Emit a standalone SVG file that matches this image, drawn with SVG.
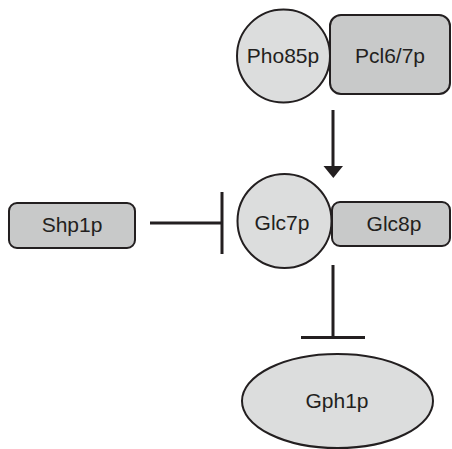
<svg xmlns="http://www.w3.org/2000/svg" width="452" height="449" viewBox="0 0 452 449">
<style>
.c{fill:#dcdddd;stroke:#231f20;stroke-width:2}
.r{fill:#c8c9c9;stroke:#231f20;stroke-width:2}
.t{font-family:"Liberation Sans",Arial,sans-serif;font-size:21px;fill:#231f20;text-anchor:middle}
.l{stroke:#231f20;stroke-width:3;fill:none}
</style>
<defs>
<marker id="arr" markerWidth="7" markerHeight="4" refX="6" refY="2" orient="auto" markerUnits="strokeWidth">
<path d="M0,0 L6.3,2 L0,4 Z" fill="#231f20"/>
</marker>
</defs>
<g id="pcl">
<rect class="r" x="330" y="15" width="120" height="79" rx="11"/>
<text class="t" x="390" y="63">Pcl6/7p</text>
</g>
<g id="pho85">
<circle class="c" cx="283.5" cy="56" r="46.5"/>
<text class="t" x="283" y="63">Pho85p</text>
</g>
<g id="glc8">
<rect class="r" x="332" y="202" width="118" height="44" rx="8"/>
<text class="t" x="394" y="231">Glc8p</text>
</g>
<g id="glc7">
<circle class="c" cx="284.5" cy="221" r="47"/>
<text class="t" x="282" y="230">Glc7p</text>
</g>
<g id="shp1">
<rect class="r" x="9" y="203" width="126" height="45" rx="8"/>
<text class="t" x="72" y="232">Shp1p</text>
</g>
<g id="gph1">
<ellipse class="c" cx="337.5" cy="401" rx="95.5" ry="47"/>
<text class="t" x="337" y="408">Gph1p</text>
</g>
<g id="connectors">
<line class="l" x1="333" y1="110" x2="333" y2="167"/>
<path d="M323.5,166 L343,166 L333.3,178 Z" fill="#231f20"/>
<line class="l" x1="150" y1="223" x2="222" y2="223"/>
<line class="l" x1="222" y1="192" x2="222" y2="254"/>
<line class="l" x1="333" y1="265" x2="333" y2="337"/>
<line class="l" x1="301" y1="337.5" x2="365" y2="337.5"/>
</g>
</svg>
